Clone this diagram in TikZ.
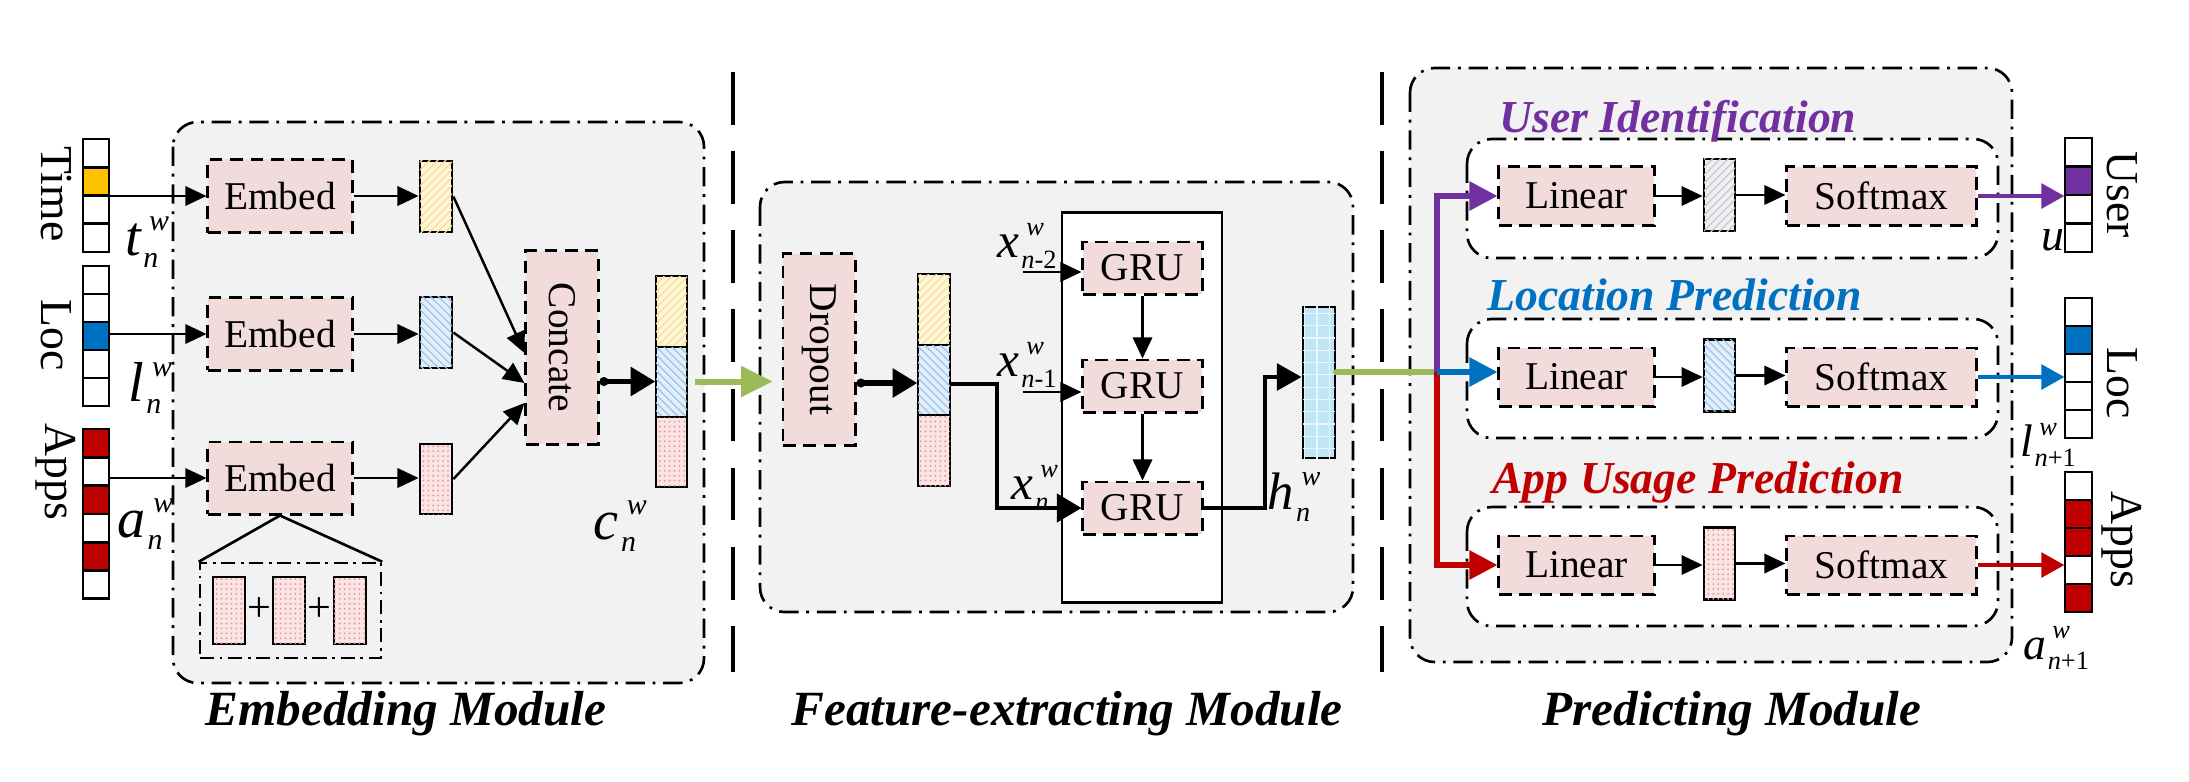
\documentclass[tikz,border=0pt]{standalone}
\usepackage{fontspec}
\setmainfont{Liberation Serif}
\usetikzlibrary{arrows.meta,patterns.meta,calc}
\definecolor{pinkbox}{HTML}{F2DCDB}
\definecolor{modbg}{HTML}{F2F2F2}
\definecolor{greenarr}{HTML}{9BBB59}
\definecolor{purp}{HTML}{7030A0}
\definecolor{bluec}{HTML}{0070C0}
\definecolor{redc}{HTML}{C00000}
\definecolor{timeo}{HTML}{FFC000}
\definecolor{yelfill}{HTML}{FFF6DA}
\definecolor{yelhatch}{HTML}{F7DC92}
\definecolor{blufill}{HTML}{E2EEF9}
\definecolor{bluhatch}{HTML}{9CC4EA}
\definecolor{redfill}{HTML}{FBE4E4}
\definecolor{redhatch}{HTML}{E79A9A}
\definecolor{hfill}{HTML}{BFE6F5}
\definecolor{hgrid}{HTML}{E9F7FD}
\definecolor{grayfill}{HTML}{F0F0F4}
\definecolor{grayhatch}{HTML}{C6C6CE}
\newcommand\vl[5]{{\fontsize{#1}{#1}\selectfont\itshape #3\kern0.04em\rlap{\raisebox{0.45em}{\kern0.1em\fontsize{#2}{#2}\selectfont #5}}\raisebox{-0.22em}{\fontsize{#2}{#2}\selectfont #4}}}
\begin{document}
\begin{tikzpicture}[x=0.01cm,y=-0.01cm,
 pbox/.style={draw, fill=pinkbox, dash pattern=on 3.6pt off 2.2pt, line width=0.85pt, inner sep=0pt, font=\fontsize{11.2}{12}\selectfont},
 module/.style={draw, fill=modbg, rounded corners=7pt, dash pattern=on 5.5pt off 2.2pt on 0.8pt off 2.2pt, line width=0.75pt},
 submod/.style={module, fill=white},
 sep/.style={line width=1pt, dash pattern=on 15pt off 7.5pt},
 arr/.style={-{Triangle[length=6pt,width=5.5pt]}, line width=0.7pt},
 tarr/.style={{Circle[length=2.5pt]}-{Triangle[length=7pt,width=8pt]}, line width=1.5pt},
 carr/.style={-{Triangle[length=8pt,width=8pt]}, line width=1.6pt},
 oarr/.style={-{Triangle[length=6.5pt,width=7pt]}, line width=1pt},
 vec/.style={draw, line width=0.8pt, inner sep=0pt},
 yelv/.style={fill=yelfill, postaction={pattern={Lines[angle=45,distance=1.6pt,line width=0.35pt]}, pattern color=yelhatch}},
 bluv/.style={fill=blufill, postaction={pattern={Lines[angle=-45,distance=1.6pt,line width=0.35pt]}, pattern color=bluhatch}},
 redv/.style={fill=redfill, postaction={pattern={Dots[distance=1.4pt,radius=0.3pt]}, pattern color=redhatch}},
 hv/.style={fill=hfill, postaction={pattern={Hatch[angle=0,distance=3.5pt,line width=0.35pt]}, pattern color=hgrid}},
 grayv/.style={fill=grayfill, postaction={pattern={Lines[angle=45,distance=1.6pt,line width=0.35pt]}, pattern color=grayhatch}},
 lab/.style={font=\fontsize{13}{13}\selectfont, rotate=-90},
 title/.style={font=\fontsize{13}{13}\selectfont\bfseries\itshape, anchor=base west},
 modlab/.style={font=\fontsize{14}{14}\selectfont\bfseries\itshape},
]
\useasboundingbox (0,0) rectangle (2189,781);
\fill[white] (0,0) rectangle (2189,781);

% modules
\draw[module] (173,122) rectangle (704,683);
\draw[module] (760,182) rectangle (1353,612);
\draw[module] (1410,68) rectangle (2012,662);
\draw[sep] (733,72) -- (733,672);
\draw[sep] (1382,72) -- (1382,672);

% ---------- inputs
\foreach \i/\c in {0/white,1/timeo,2/white,3/white}
  \draw[vec, fill=\c] (83,{139+28.25*\i}) rectangle ++(26,28.25);
\node[inner sep=0pt, minimum width=0.26cm, minimum height=1.13cm] (tvec) at (96,195.5) {};
\foreach \i/\c in {0/white,1/white,2/bluec,3/white,4/white}
  \draw[vec, fill=\c] (83,{266+28*\i}) rectangle ++(26,28);
\node[inner sep=0pt, minimum width=0.26cm, minimum height=1.40cm] (lvec) at (96,336) {};
\foreach \i/\c in {0/redc,1/white,2/redc,3/white,4/redc,5/white}
  \draw[vec, fill=\c] (83,{429+28.3*\i}) rectangle ++(26,28.3);
\node[inner sep=0pt, minimum width=0.26cm, minimum height=1.70cm] (avec) at (96,514) {};

\node[lab] at (56,194) {Time};
\node[lab] at (56,335) {Loc};
\node[lab] at (56,472) {Apps};
\node at (142,242) {\vl{16}{8.5}{t}{n}{w}};
\node at (145,388) {\vl{16}{8.5}{l}{n}{w}};
\node at (140,524) {\vl{16}{8.5}{a}{n}{w}};

% ---------- embedding module
\node[pbox, minimum width=1.44cm, minimum height=0.73cm] (emb1) at (280,196) {Embed};
\node[pbox, minimum width=1.44cm, minimum height=0.72cm] (emb2) at (280,334) {Embed};
\node[pbox, minimum width=1.44cm, minimum height=0.72cm] (emb3) at (280,478) {Embed};
\draw[arr] (tvec.east |- emb1.west) -- (emb1.west);
\draw[arr] (lvec.east |- emb2.west) -- (emb2.west);
\draw[arr] (avec.east |- emb3.west) -- (emb3.west);

\node[vec, yelv, minimum width=0.32cm, minimum height=0.71cm] (yv) at (436,196.5) {};
\node[vec, bluv, minimum width=0.32cm, minimum height=0.71cm] (bv) at (436,332.5) {};
\node[vec, redv, minimum width=0.32cm, minimum height=0.70cm] (rv) at (436,479) {};
\draw[arr] (emb1.east) -- (emb1.east -| yv.west);
\draw[arr] (emb2.east) -- (emb2.east -| bv.west);
\draw[arr] (emb3.east) -- (emb3.east -| rv.west);

\node[pbox, minimum width=0.72cm, minimum height=1.93cm] (concat) at (562,347.5) {\rotatebox{-90}{Concate}};
\draw[arr] (yv.east) -- ($(concat.west)+(0,5.5)$);
\draw[arr] (bv.east) -- ($(concat.west)+(0,35.5)$);
\draw[arr] (rv.east) -- ($(concat.west)+(0,55.5)$);

\draw[vec, yelv] (656,276) rectangle (687,347);
\draw[vec, bluv] (656,347) rectangle (687,417);
\draw[vec, redv] (656,417) rectangle (687,487);
\node[inner sep=0pt, minimum width=0.31cm, minimum height=2.11cm] (cvec) at (671.5,381.5) {};
\draw[tarr] (concat.east |- cvec.west) -- (cvec.west);
\node at (615,526) {\vl{16}{8.5}{c}{n}{w}};

% decomposition of the apps embedding
\node[draw, line width=0.7pt, dash pattern=on 4pt off 1.6pt on 0.8pt off 1.6pt, minimum width=1.81cm, minimum height=0.95cm] (dbox) at (290.5,610.5) {};
\draw[line width=0.75pt] (dbox.north west) -- (emb3.south) -- (dbox.north east);
\node[vec, redv, minimum width=0.32cm, minimum height=0.67cm] (d1) at (229,610.5) {};
\node[vec, redv, minimum width=0.32cm, minimum height=0.67cm] (d2) at (289,610.5) {};
\node[vec, redv, minimum width=0.32cm, minimum height=0.67cm] (d3) at (350,610.5) {};
\node[font=\fontsize{12}{12}\selectfont, inner sep=0pt] at (259,610) {+};
\node[font=\fontsize{12}{12}\selectfont, inner sep=0pt] at (319,610) {+};

% ---------- feature-extracting module
\node[pbox, minimum width=0.72cm, minimum height=1.91cm] (drop) at (819,349.5) {\rotatebox{-90}{Dropout}};
\draw[-{Triangle[length=9pt,width=8.5pt]}, line width=1.7pt, greenarr, shorten <=2pt, shorten >=2.5pt] (cvec.east) -- (cvec.east -| drop.west);

\draw[vec, yelv] (918,274) rectangle (950,345);
\draw[vec, bluv] (918,345) rectangle (950,415);
\draw[vec, redv] (918,415) rectangle (950,486);
\node[inner sep=0pt, minimum width=0.32cm, minimum height=2.12cm] (dvec) at (934,380) {};
\draw[tarr] (drop.east |- 0,383) -- (dvec.west |- 0,383);

\node[draw, fill=white, line width=0.8pt, minimum width=1.60cm, minimum height=3.89cm] (grubox) at (1142,407.5) {};
\node[pbox, minimum width=1.19cm, minimum height=0.52cm] (gru1) at (1142.5,268) {GRU};
\node[pbox, minimum width=1.19cm, minimum height=0.52cm] (gru2) at (1142.5,386) {GRU};
\node[pbox, minimum width=1.19cm, minimum height=0.52cm] (gru3) at (1142.5,508) {GRU};
\draw[arr] (gru1) -- (gru2);
\draw[arr] (gru2) -- (gru3);

\coordinate (xin2) at (1023,272);
\coordinate (xin1) at (1023,392);
\draw[arr] (xin2) -- (xin2 -| gru1.west);
\draw[arr] (xin1) -- (xin1 -| gru2.west);
\node at (1027,246) {\vl{14}{7.5}{x}{n{\upshape -2}}{w}};
\node at (1027,365) {\vl{14}{7.5}{x}{n{\upshape -1}}{w}};
\node at (1030,488) {\vl{14}{7.5}{x}{n}{w}};

\coordinate (bend1) at (997,508);
\draw[line width=1.2pt, -{Triangle[length=7pt,width=8pt]}] ($(dvec.east)+(0,4)$) -| (bend1) -- (gru3.west);

\node[vec, hv, minimum width=0.32cm, minimum height=1.51cm] (hvec) at (1319,382.5) {};
\coordinate (hb) at (1265,377);
\draw[line width=1.3pt, -{Triangle[length=7pt,width=7.5pt]}] (gru3.east) -| (hb) -- (hb -| hvec.west);
\node at (1289,497) {\vl{15}{8}{h}{n}{w}};

% ---------- predicting module
\draw[submod] (1467,139) rectangle (1998,258);
\draw[submod] (1467,319) rectangle (1998,438);
\draw[submod] (1467,507) rectangle (1998,626);
\node[title, purp] at (1487,132) {User Identification};
\node[title, bluec] at (1475,310) {Location Prediction};
\node[title, redc] at (1480,493) {App Usage Prediction};

\node[pbox, minimum width=1.55cm, minimum height=0.58cm] (lin1) at (1576.5,196) {Linear};
\node[pbox, minimum width=1.55cm, minimum height=0.58cm] (lin2) at (1576.5,377) {Linear};
\node[pbox, minimum width=1.55cm, minimum height=0.58cm] (lin3) at (1576.5,565) {Linear};
\node[vec, grayv, minimum width=0.31cm, minimum height=0.72cm] (pv1) at (1719.5,195) {};
\node[vec, bluv, minimum width=0.31cm, minimum height=0.72cm] (pv2) at (1719.5,375.5) {};
\node[vec, redv, minimum width=0.31cm, minimum height=0.72cm] (pv3) at (1719.5,563.5) {};
\node[pbox, minimum width=1.89cm, minimum height=0.58cm] (sm1) at (1881.5,196) {Softmax};
\node[pbox, minimum width=1.89cm, minimum height=0.58cm] (sm2) at (1881.5,377) {Softmax};
\node[pbox, minimum width=1.89cm, minimum height=0.58cm] (sm3) at (1881.5,565) {Softmax};
\foreach \k in {1,2,3} {
  \draw[arr] (lin\k.east) -- (lin\k.east -| pv\k.west);
  \draw[arr] (pv\k.east) -- (pv\k.east -| sm\k.west);
}

\coordinate (J) at (1437,372);
\draw[line width=1.9pt, greenarr, line cap=round] (hvec.east |- J) -- (J);
\draw[carr, redc] (J) |- (lin3.west);
\draw[carr, purp] (J) |- (lin1.west);
\draw[carr, bluec] (J) -- (J -| lin2.west);

% outputs
\foreach \i/\c in {0/white,1/purp,2/white,3/white}
  \draw[vec, fill=\c] (2065,{138+28.5*\i}) rectangle ++(27,28.5);
\node[inner sep=0pt, minimum width=0.27cm, minimum height=1.14cm] (uvec) at (2078.5,195) {};
\foreach \i/\c in {0/white,1/bluec,2/white,3/white,4/white}
  \draw[vec, fill=\c] (2065,{298+28*\i}) rectangle ++(27,28);
\node[inner sep=0pt, minimum width=0.27cm, minimum height=1.40cm] (lovec) at (2078.5,368) {};
\foreach \i/\c in {0/white,1/redc,2/redc,3/white,4/redc}
  \draw[vec, fill=\c] (2065,{472+28*\i}) rectangle ++(27,28);
\node[inner sep=0pt, minimum width=0.27cm, minimum height=1.40cm] (aovec) at (2078.5,542) {};
\draw[oarr, purp] (sm1.east) -- (sm1.east -| uvec.west);
\draw[oarr, bluec] (sm2.east) -- (sm2.east -| lovec.west);
\draw[oarr, redc] (sm3.east) -- (sm3.east -| aovec.west);

\node[lab] at (2122,195) {User};
\node[lab] at (2122,383) {Loc};
\node[lab] at (2122,540) {Apps};
\node at (2053,240) {\fontsize{13}{13}\selectfont\itshape u};
\node at (2048,445) {\vl{13}{7.5}{l}{n{\upshape +1}}{w}};
\node at (2056,648) {\vl{13}{7.5}{a}{n{\upshape +1}}{w}};

% module labels
\node[modlab] at (406,714) {Embedding Module};
\node[modlab] at (1067,714) {Feature-extracting Module};
\node[modlab] at (1732,714) {Predicting Module};
\end{tikzpicture}
\end{document}
